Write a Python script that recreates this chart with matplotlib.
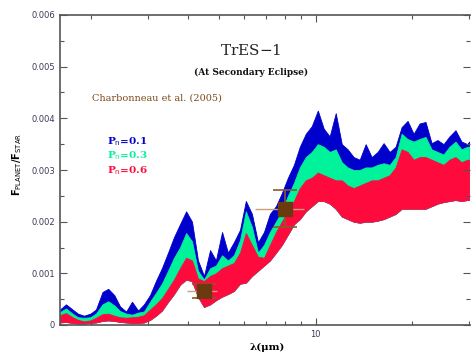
import numpy as np
from matplotlib import pyplot as plt
from matplotlib.ticker import MultipleLocator, NullFormatter, FixedLocator, FixedFormatter

# wavelength grid (micron)
wavelength = [1.60, 1.67, 1.75, 1.82, 1.90, 1.99, 2.07, 2.17, 2.26, 2.36,
              2.46, 2.57, 2.68, 2.80, 2.92, 3.05, 3.18, 3.32, 3.47, 3.62,
              3.78, 3.95, 4.12, 4.30, 4.49, 4.69, 4.89, 5.11, 5.33, 5.56,
              5.81, 6.06, 6.33, 6.61, 6.90, 7.20, 7.52, 7.84, 8.19, 8.55,
              8.92, 9.31, 9.72, 10.15, 10.59, 11.05, 11.54, 12.05, 12.57, 13.12,
              13.70, 14.30, 14.93, 15.58, 16.26, 16.98, 17.72, 18.50, 19.31, 20.16,
              21.04, 21.96, 22.93, 23.93, 24.98, 26.07, 27.22, 28.41, 29.65, 30.0]

# flux ratios in units of 1e-3 (top of each noisy band)
blueHigh = [0.30, 0.40, 0.30, 0.22, 0.18, 0.22, 0.30, 0.64, 0.70, 0.58,
            0.36, 0.26, 0.45, 0.28, 0.40, 0.58, 0.85, 1.10, 1.40, 1.70,
            1.95, 2.20, 2.00, 1.25, 0.95, 1.45, 1.25, 1.80, 1.40, 1.60,
            1.84, 2.40, 2.15, 1.60, 1.80, 2.15, 2.30, 2.55, 2.85, 3.10,
            3.45, 3.70, 3.85, 4.15, 3.80, 3.65, 4.10, 3.50, 3.40, 3.25,
            3.20, 3.50, 3.25, 3.35, 3.52, 3.35, 3.45, 3.83, 3.95, 3.70,
            3.90, 3.93, 3.52, 3.58, 3.50, 3.65, 3.77, 3.55, 3.50, 3.55]
greenHigh = [0.25, 0.32, 0.22, 0.15, 0.14, 0.15, 0.22, 0.40, 0.46, 0.38,
             0.27, 0.22, 0.20, 0.24, 0.26, 0.45, 0.62, 0.80, 1.05, 1.30,
             1.50, 1.78, 1.62, 1.05, 0.88, 1.10, 1.15, 1.35, 1.25, 1.35,
             1.64, 2.20, 1.90, 1.40, 1.55, 1.80, 2.00, 2.20, 2.50, 2.75,
             3.05, 3.25, 3.35, 3.50, 3.45, 3.35, 3.40, 3.15, 3.05, 3.00,
             3.00, 3.05, 3.05, 3.10, 3.13, 3.10, 3.25, 3.70, 3.60, 3.55,
             3.60, 3.64, 3.40, 3.35, 3.30, 3.45, 3.55, 3.40, 3.45, 3.45]
redHigh = [0.19, 0.23, 0.15, 0.10, 0.07, 0.09, 0.14, 0.21, 0.22, 0.18,
           0.15, 0.14, 0.15, 0.16, 0.19, 0.30, 0.40, 0.52, 0.70, 0.88,
           1.10, 1.30, 1.25, 0.90, 0.85, 0.95, 1.00, 1.10, 1.15, 1.20,
           1.40, 1.78, 1.55, 1.32, 1.30, 1.55, 1.80, 2.00, 2.20, 2.40,
           2.65, 2.80, 2.85, 2.95, 2.90, 2.85, 2.80, 2.80, 2.70, 2.65,
           2.70, 2.75, 2.80, 2.80, 2.85, 2.90, 3.05, 3.40, 3.35, 3.20,
           3.25, 3.25, 3.20, 3.15, 3.10, 3.20, 3.25, 3.15, 3.20, 3.20]
# bottom of the bands
bandLow = [0.05, 0.06, 0.04, 0.03, 0.03, 0.04, 0.05, 0.08, 0.09, 0.08,
           0.06, 0.05, 0.04, 0.04, 0.05, 0.10, 0.18, 0.28, 0.45, 0.60,
           0.78, 0.88, 0.85, 0.55, 0.35, 0.40, 0.48, 0.55, 0.60, 0.66,
           0.80, 0.82, 0.95, 1.05, 1.15, 1.25, 1.40, 1.55, 1.75, 1.95,
           2.05, 2.20, 2.30, 2.40, 2.40, 2.35, 2.25, 2.10, 2.05, 2.00,
           1.98, 2.00, 2.00, 2.02, 2.05, 2.10, 2.15, 2.25, 2.25, 2.25,
           2.25, 2.25, 2.30, 2.35, 2.38, 2.40, 2.42, 2.40, 2.42, 2.42]

seriesLabels = ['P$_\\mathrm{n}$=0.1', 'P$_\\mathrm{n}$=0.3', 'P$_\\mathrm{n}$=0.6']
seriesColors = ['#0000cc', '#00f29a', '#ff0a3c']

# Charbonneau et al. (2005) secondary eclipse points
obsWavelength = [4.5, 8.0]
obsRatio = [0.00066, 0.00225]
obsRatioErr = [0.00013, 0.00036]
obsBandLeft = [0.52, 1.55]
obsBandRight = [0.43, 1.20]

fig = plt.figure(figsize=(4.71, 3.56), dpi=100)
ax = fig.add_axes([60 / 471, 31 / 356, 410 / 471, 310 / 356])

lam = np.array(wavelength)
low = np.array(bandLow) * 1e-3
for high, color in zip([blueHigh, greenHigh, redHigh], seriesColors):
    ax.fill_between(lam, low, np.array(high) * 1e-3, color=color, linewidth=0.6, edgecolor=color)

ax.errorbar(obsWavelength, obsRatio, xerr=[obsBandLeft, obsBandRight], fmt='none',
            ecolor='#c9a27a', elinewidth=1.0, capsize=0, zorder=5)
ax.errorbar(obsWavelength, obsRatio, yerr=obsRatioErr, fmt='none',
            ecolor='#8b5a2b', elinewidth=1.2, capsize=8.5, capthick=1.2, zorder=6)
ax.plot(obsWavelength, obsRatio, 's', color='#6b3a0f', markersize=9.5, zorder=7)

ax.set_xscale('log')
ax.set_xlim(1.6, 30.2)
ax.set_ylim(0, 0.006)

ax.xaxis.set_major_locator(FixedLocator([10]))
ax.xaxis.set_major_formatter(FixedFormatter(['10']))
ax.xaxis.set_minor_locator(FixedLocator([2, 3, 4, 5, 6, 7, 8, 9, 20, 30]))
ax.xaxis.set_minor_formatter(NullFormatter())
ax.yaxis.set_major_locator(MultipleLocator(0.001))
ax.yaxis.set_minor_locator(MultipleLocator(0.0005))
ax.set_yticks([0, 0.001, 0.002, 0.003, 0.004, 0.005, 0.006])
ax.set_yticklabels(['0', '0.001', '0.002', '0.003', '0.004', '0.005', '0.006'])

ax.tick_params(which='both', direction='in', top=True, right=True, color='#555555',
               labelsize=6, labelcolor='#3a3a55', width=0.8)
ax.tick_params(which='major', length=5)
ax.tick_params(which='minor', length=3)
for side in ['left', 'bottom', 'top']:
    ax.spines[side].set_color('#555555')
    ax.spines[side].set_linewidth(1.2)
ax.spines['right'].set_visible(False)

ax.text(0.466, 0.884, 'TrES$-$1', transform=ax.transAxes, ha='center', va='center',
        family='DejaVu Serif', fontsize=11, color='#222222')
ax.text(0.466, 0.816, '(At Secondary Eclipse)', transform=ax.transAxes, ha='center', va='center',
        family='DejaVu Serif', fontweight='bold', fontsize=6.5, color='#111111')
ax.text(0.078, 0.733, 'Charbonneau et al. (2005)', transform=ax.transAxes, ha='left', va='center',
        family='DejaVu Serif', fontsize=7, color='#7b4a1a')
for i, (label, color) in enumerate(zip(seriesLabels, seriesColors)):
    ax.text(0.115, 0.593 - i * 0.048, label, transform=ax.transAxes, ha='left', va='center',
            family='DejaVu Serif', fontweight='bold', fontsize=7.5, color=color)

fig.text(17 / 471, 1 - 164 / 356, r'F$_\mathrm{PLANET}$/F$_\mathrm{STAR}$', rotation=90,
         ha='center', va='center', family='DejaVu Sans', fontweight='bold', fontsize=7)
fig.text(267 / 471, 1 - 347 / 356, 'λ(μm)', ha='center', va='center',
         family='DejaVu Serif', fontweight='bold', fontsize=7.5)

fig.savefig('out.png', dpi=100)
